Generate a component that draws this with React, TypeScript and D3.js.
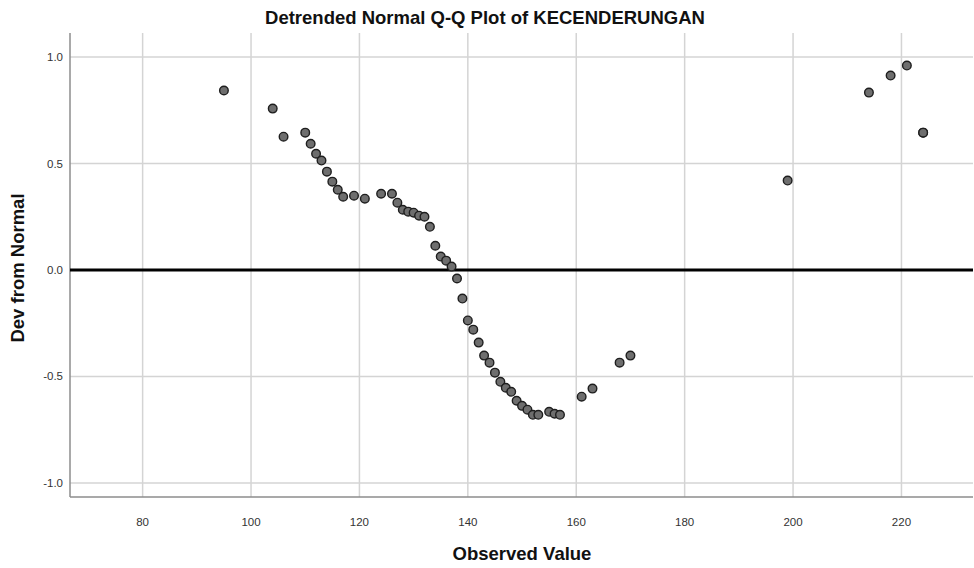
import React from "react";
import * as d3 from "d3";

const observed: number[] = [95, 104, 106, 110, 111, 112, 113, 114, 115, 116, 117, 119, 121, 124, 126, 127, 128, 129, 130, 131, 132, 133, 134, 135, 136, 137, 138, 139, 140, 141, 142, 143, 144, 145, 146, 147, 148, 149, 150, 151, 152, 153, 155, 156, 157, 161, 163, 168, 170, 199, 214, 218, 221, 224, 224];
const devFromNormal: number[] = [0.843, 0.758, 0.626, 0.645, 0.593, 0.546, 0.514, 0.462, 0.415, 0.377, 0.344, 0.349, 0.335, 0.358, 0.358, 0.316, 0.283, 0.274, 0.269, 0.255, 0.25, 0.203, 0.114, 0.063, 0.044, 0.016, -0.04, -0.134, -0.237, -0.28, -0.341, -0.402, -0.435, -0.482, -0.525, -0.553, -0.572, -0.614, -0.638, -0.656, -0.68, -0.68, -0.666, -0.675, -0.68, -0.595, -0.557, -0.435, -0.402, 0.42, 0.833, 0.913, 0.96, 0.645, 0.645];
const xTicks: number[] = [80, 100, 120, 140, 160, 180, 200, 220];
const yTicks: number[] = [-1.0, -0.5, 0.0, 0.5, 1.0];

const W = 974;
const H = 568;
const left = 70;
const right = 973;
const top = 33;
const bottom = 497;

export default function App() {
  const x = d3.scaleLinear().domain([66.6, 233.2]).range([left, right]);
  const y = d3.scaleLinear().domain([-1.066, 1.113]).range([bottom, top]);
  const font = "'Liberation Sans', Arial, sans-serif";
  return (
    <svg width={W} height={H} style={{ position: "absolute", left: 0, top: 0, background: "#fff" }} fontFamily={font}>
      <rect x={0} y={0} width={W} height={H} fill="#fff" />
      {xTicks.map((t) => (
        <line key={"gx" + t} x1={x(t)} x2={x(t)} y1={top} y2={bottom} stroke="#d4d4d4" strokeWidth={1.5} />
      ))}
      {yTicks.map((t) => (
        <line key={"gy" + t} x1={left} x2={right} y1={y(t)} y2={y(t)} stroke="#d4d4d4" strokeWidth={1.5} />
      ))}
      <line x1={left} x2={left} y1={top} y2={bottom} stroke="#8c8c8c" strokeWidth={1.5} />
      <line x1={left} x2={right} y1={bottom} y2={bottom} stroke="#8c8c8c" strokeWidth={1.5} />
      <line x1={left} x2={right} y1={y(0)} y2={y(0)} stroke="#000" strokeWidth={3} />
      {xTicks.map((t) => (
        <text key={"tx" + t} x={x(t)} y={526} textAnchor="middle" fontSize={11.5} fill="#333">
          {t}
        </text>
      ))}
      {yTicks.map((t) => (
        <text key={"ty" + t} x={63} y={y(t) + 4} textAnchor="end" fontSize={11.5} fill="#333">
          {t.toFixed(1)}
        </text>
      ))}
      {observed.map((v, i) => (
        <circle key={"p" + i} cx={x(v)} cy={y(devFromNormal[i])} r={4.3} fill="#6e6e6e" stroke="#1e1e1e" strokeWidth={1.4} />
      ))}
      <text x={485} y={24} textAnchor="middle" fontSize={18.5} fontWeight="bold" fill="#111">
        Detrended Normal Q-Q Plot of KECENDERUNGAN
      </text>
      <text x={522} y={560} textAnchor="middle" fontSize={18.5} fontWeight="bold" fill="#111">
        Observed Value
      </text>
      <text transform={`translate(23.5,268) rotate(-90)`} textAnchor="middle" fontSize={18.5} fontWeight="bold" fill="#111">
        Dev from Normal
      </text>
    </svg>
  );
}
